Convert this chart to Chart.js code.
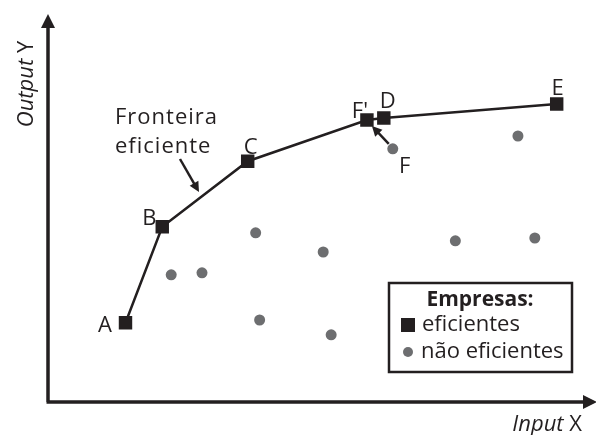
<!DOCTYPE html>
<html>
<head>
<meta charset="utf-8">
<script src="https://cdn.jsdelivr.net/npm/chart.js@4"></script>
<style>
  html, body { margin: 0; padding: 0; background: #fff; }
  #wrap { width: 596px; height: 435px; position: relative; }
</style>
</head>
<body>
<div id="wrap"><canvas id="chart"></canvas></div>
<script>
// efficient firms (frontier), in arbitrary input/output units
var effLabels = ['A', 'B', 'C', "F'", 'D', 'E'];
var effX = [15.6, 23.0, 40.2, 64.2, 67.6, 102.4];
var effY = [19.8, 43.8, 60.2, 70.5, 71.0, 74.5];

// non-efficient firms
var ineffX = [24.8, 31.0, 41.8, 42.6, 55.4, 57.0, 69.4, 82.0, 94.6, 98.0];
var ineffY = [31.8, 32.3, 42.3, 20.5, 37.5, 16.8, 63.3, 40.3, 66.5, 41.0];

var xMax = 108.4, yMax = 96.75;
var ink = '#231f20', grey = '#6d6e70';
var fontFam = '"Open Sans", "Noto Sans", sans-serif';

function pts(xs, ys) {
  return xs.map(function (x, i) { return { x: x, y: ys[i] }; });
}

function arrowHead(ctx, x1, y1, x2, y2, len, half) {
  var a = Math.atan2(y2 - y1, x2 - x1);
  ctx.beginPath();
  ctx.moveTo(x2, y2);
  ctx.lineTo(x2 - len * Math.cos(a) + half * Math.sin(a), y2 - len * Math.sin(a) - half * Math.cos(a));
  ctx.lineTo(x2 - len * Math.cos(a) - half * Math.sin(a), y2 - len * Math.sin(a) + half * Math.cos(a));
  ctx.closePath();
  ctx.fill();
}

function pointer(ctx, x1, y1, x2, y2) {
  ctx.beginPath();
  ctx.moveTo(x1, y1);
  var a = Math.atan2(y2 - y1, x2 - x1);
  ctx.lineTo(x2 - 6 * Math.cos(a), y2 - 6 * Math.sin(a));
  ctx.stroke();
  arrowHead(ctx, x1, y1, x2, y2, 10, 5);
}

// "Input X" style titles: italic word + upright letter
function mixedText(ctx, italicPart, plainPart, x, y, size) {
  ctx.font = 'italic ' + size + 'px ' + fontFam;
  ctx.fillText(italicPart, x, y);
  var w = ctx.measureText(italicPart).width;
  ctx.font = size + 'px ' + fontFam;
  ctx.fillText(plainPart, x + w, y);
}
function mixedWidth(ctx, italicPart, plainPart, size) {
  ctx.font = 'italic ' + size + 'px ' + fontFam;
  var w = ctx.measureText(italicPart).width;
  ctx.font = size + 'px ' + fontFam;
  return w + ctx.measureText(plainPart).width;
}

var decor = {
  id: 'decor',
  afterDraw: function (chart) {
    var ctx = chart.ctx;
    var xs = chart.scales.x, ys = chart.scales.y;
    var left = xs.getPixelForValue(0), bottom = ys.getPixelForValue(0);
    ctx.save();
    ctx.strokeStyle = ink;
    ctx.fillStyle = ink;

    // axes with arrows
    ctx.lineWidth = 3.5;
    ctx.beginPath();
    ctx.moveTo(left, bottom);
    ctx.lineTo(left, 26);
    ctx.moveTo(left - 1.5, bottom);
    ctx.lineTo(585, bottom);
    ctx.stroke();
    arrowHead(ctx, left, bottom, left, 14, 14, 7);
    arrowHead(ctx, left, bottom, 597, bottom, 14, 7);

    // point labels
    ctx.font = '22px ' + fontFam;
    ctx.textAlign = 'center';
    ctx.textBaseline = 'alphabetic';
    var offs = [[-20.5, 9], [-13, -2], [3, -7.5], [-7, -2], [4, -10], [1, -9]];
    effLabels.forEach(function (lab, i) {
      var px = xs.getPixelForValue(effX[i]), py = ys.getPixelForValue(effY[i]);
      ctx.fillText(lab, px + offs[i][0], py + offs[i][1]);
    });
    var fx = xs.getPixelForValue(ineffX[6]), fy = ys.getPixelForValue(ineffY[6]);
    ctx.fillText('F', fx + 12, fy + 24);

    // F -> F' pointer
    var fpx = xs.getPixelForValue(effX[3]), fpy = ys.getPixelForValue(effY[3]);
    ctx.lineWidth = 2.5;
    pointer(ctx, fx - 4, fy - 5, fpx + 5, fpy + 6);

    // frontier annotation
    ctx.textAlign = 'left';
    ctx.letterSpacing = '1px';
    ctx.fillText('Fronteira', 115, 124);
    ctx.fillText('eficiente', 115, 153);
    ctx.letterSpacing = '0px';
    pointer(ctx, 180, 159, 199, 192);

    // axis titles
    var wIn = mixedWidth(ctx, 'Input', ' X', 22);
    mixedText(ctx, 'Input', ' X', 582 - wIn, 431, 22);

    ctx.save();
    ctx.translate(33, 84);
    ctx.rotate(-Math.PI / 2);
    var wOut = mixedWidth(ctx, 'Output', ' Y', 22);
    mixedText(ctx, 'Output', ' Y', -wOut / 2, 0, 22);
    ctx.restore();

    // legend box
    ctx.lineWidth = 2.5;
    ctx.strokeRect(389, 283, 183, 89);
    ctx.textAlign = 'center';
    ctx.font = 'bold 21px ' + fontFam;
    ctx.fillText('Empresas:', 480, 306);
    ctx.textAlign = 'left';
    ctx.font = '22px ' + fontFam;
    ctx.fillRect(401, 318, 14, 14);
    ctx.fillText('eficientes', 422, 331);
    ctx.fillStyle = grey;
    ctx.beginPath();
    ctx.arc(408, 352, 5, 0, Math.PI * 2);
    ctx.fill();
    ctx.fillStyle = ink;
    ctx.fillText('não eficientes', 421, 358);
    ctx.restore();
  }
};

new Chart(document.getElementById('chart'), {
  type: 'scatter',
  data: {
    datasets: [{
      label: 'eficientes',
      data: pts(effX, effY),
      showLine: true,
      borderColor: ink,
      borderWidth: 2.5,
      backgroundColor: ink,
      pointStyle: 'rect',
      pointRadius: 9.5,
      pointBorderWidth: 0,
      order: 1
    }, {
      label: 'não eficientes',
      data: pts(ineffX, ineffY),
      backgroundColor: grey,
      borderWidth: 0,
      pointRadius: 5.5,
      order: 2
    }]
  },
  options: {
    responsive: true,
    maintainAspectRatio: false,
    animation: false,
    layout: { padding: { left: 48, right: 6, top: 15, bottom: 33 } },
    scales: {
      x: { type: 'linear', display: false, min: 0, max: xMax },
      y: { type: 'linear', display: false, min: 0, max: yMax }
    },
    plugins: {
      legend: { display: false },
      tooltip: { enabled: false }
    }
  },
  plugins: [decor]
});
</script>
</body>
</html>
